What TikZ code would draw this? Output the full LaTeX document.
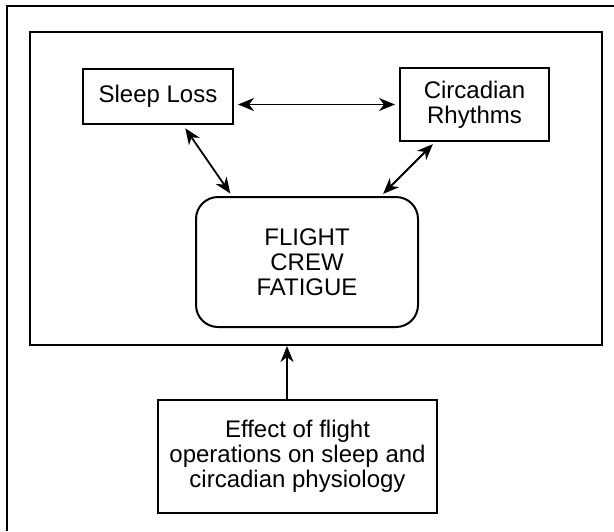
\documentclass[tikz,border=0pt]{standalone}
\usepackage{fontspec}
\setmainfont{Liberation Sans}
\usetikzlibrary{arrows.meta}

\begin{document}
\begin{tikzpicture}[x=0.5pt, y=-0.5pt]
\useasboundingbox (0, 0) rectangle (614, 531);
\draw [line width=1.2pt] (7, 531) |- (614, 6);

\begin{scope}[every node/.style={rectangle,draw,line width=1pt,inner sep=0pt,align=center,
              font=\fontsize{12}{12.5}\selectfont}]
    \node (frame) at (315.75, 188.5) [minimum width=286.25pt, minimum height=156.5pt] {};
    \node (loss) at (158, 96.5) [minimum width=75pt, minimum height=27.5pt] {Sleep Loss};
    \node (rhythm) at (474.5, 104.5) [minimum width=74.5pt, minimum height=36.5pt] {Circadian\\Rhythms};

    \node (fatigue) at (307, 262) [rounded corners=11pt, minimum width=111pt, minimum height=65pt] {FLIGHT\\CREW\\FATIGUE};

    \node (effect) at (297.5, 456.5) [minimum width=139.5pt, minimum height=56.5pt] {Effect of flight\\operations on sleep and\\circadian physiology};
\end{scope}

\begin{scope}[>={Stealth[length=8pt,width=6.5pt,inset=2.5pt]},
              every edge/.style={draw,line width=0.9pt}]
    \path [<->, shorten <=2pt, shorten >=2pt] (loss.east |- rhythm.west) edge (rhythm.west);
    \path [<->, shorten <=2pt, shorten >=1.5pt] ([xshift=12.5pt]loss.south) edge ([xshift=-37.5pt]fatigue.north);
    \path [<->, shorten <=1.5pt, shorten >=1.5pt] ([xshift=-19.75pt]rhythm.south) edge ([xshift=37pt]fatigue.north);
    \path [->] ([xshift=-5.25pt]effect.north) edge ([xshift=-5.25pt]effect.north |- frame.south);
\end{scope}
\end{tikzpicture}
\end{document}
